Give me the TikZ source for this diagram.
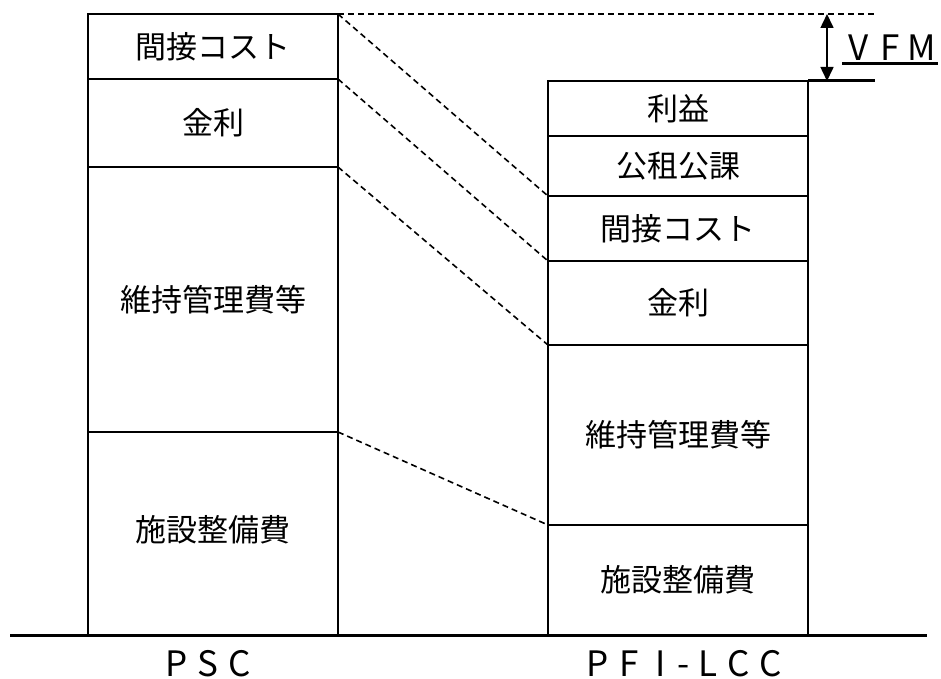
\documentclass[tikz,border=0pt]{standalone}
\usepackage{fontspec}
\setmainfont{Noto Sans CJK JP}
\usetikzlibrary{arrows.meta}
\newcommand\fwcell[1]{\makebox[31.5pt]{#1}}
\tikzset{
  box/.style={draw, line width=1.6pt, rectangle, inner sep=0pt, outer sep=0pt,
    anchor=north west, font=\fontsize{31}{31}\selectfont},
  lbox/.style={box, minimum width=250pt},
  rbox/.style={box, minimum width=260pt},
  guide/.style={line width=1.6pt, dash pattern=on 6pt off 4pt},
  ground/.style={line width=3pt},
  captext/.style={inner sep=0pt, text height=25pt, text depth=0pt,
    font=\fontsize{35}{35}\selectfont}
}
\begin{document}
\begin{tikzpicture}[x=1pt,y=-1pt]
\useasboundingbox (0,0) rectangle (941,679);
% PSC column
\node[lbox, minimum height=65pt] (L1) at (88,14) {\raisebox{-2pt}{間接コスト}};
\node[lbox, minimum height=88pt] (L2) at (88,79) {\raisebox{-3pt}{金利}};
\node[lbox, minimum height=265pt] (L3) at (88,167) {維持管理費等};
\node[lbox, minimum height=203pt] (L4) at (88,432) {\raisebox{10pt}{施設整備費}};
% PFI-LCC column
\node[rbox, minimum height=55pt] (R1) at (548,81) {利益};
\node[rbox, minimum height=60pt] (R2) at (548,136) {公租公課};
\node[rbox, minimum height=65pt] (R3) at (548,196) {間接コスト};
\node[rbox, minimum height=84pt] (R4) at (548,261) {\raisebox{-2pt}{金利}};
\node[rbox, minimum height=180pt] (R5) at (548,345) {\raisebox{-7pt}{維持管理費等}};
\node[rbox, minimum height=110pt] (R6) at (548,525) {施設整備費};
% ground line
\coordinate (g1) at (10,635);
\coordinate (g2) at (927,635);
\draw[ground] (g1) -- (g2);
% column captions
\node[captext] (psc) at (208,664) {\fwcell{P}\fwcell{S}\fwcell{C}};
\node[captext] (pfi) at (684,664) {\fwcell{P}\fwcell{F}\fwcell{I}\makebox[15.75pt]{-}\fwcell{L}\fwcell{C}\fwcell{C}};
% correspondence lines
\coordinate (topend) at (876,14);
\draw[guide] (L1.north east) -- (topend);
\draw[guide] (L1.north east) -- (R3.north west);
\draw[guide] (L2.north east) -- (R4.north west);
\draw[guide] (L3.north east) -- (R5.north west);
\draw[guide] (L4.north east) -- (R6.north west);
% VFM marker
\coordinate (vend) at (875,81);
\draw[ground] (R1.north east) -- (vend);
\coordinate (va) at (827,14);
\coordinate (vb) at (827,81);
\draw[line width=1.6pt, {Triangle[length=14pt,width=13pt]}-{Triangle[length=14pt,width=13pt]}] (va) -- (vb);
\node[captext] (vfm) at (890,48) {\fwcell{V}\fwcell{F}\fwcell{M}};
\coordinate (u1) at (842,64);
\coordinate (u2) at (938,64);
\draw[ground] (u1) -- (u2);
\end{tikzpicture}
\end{document}
